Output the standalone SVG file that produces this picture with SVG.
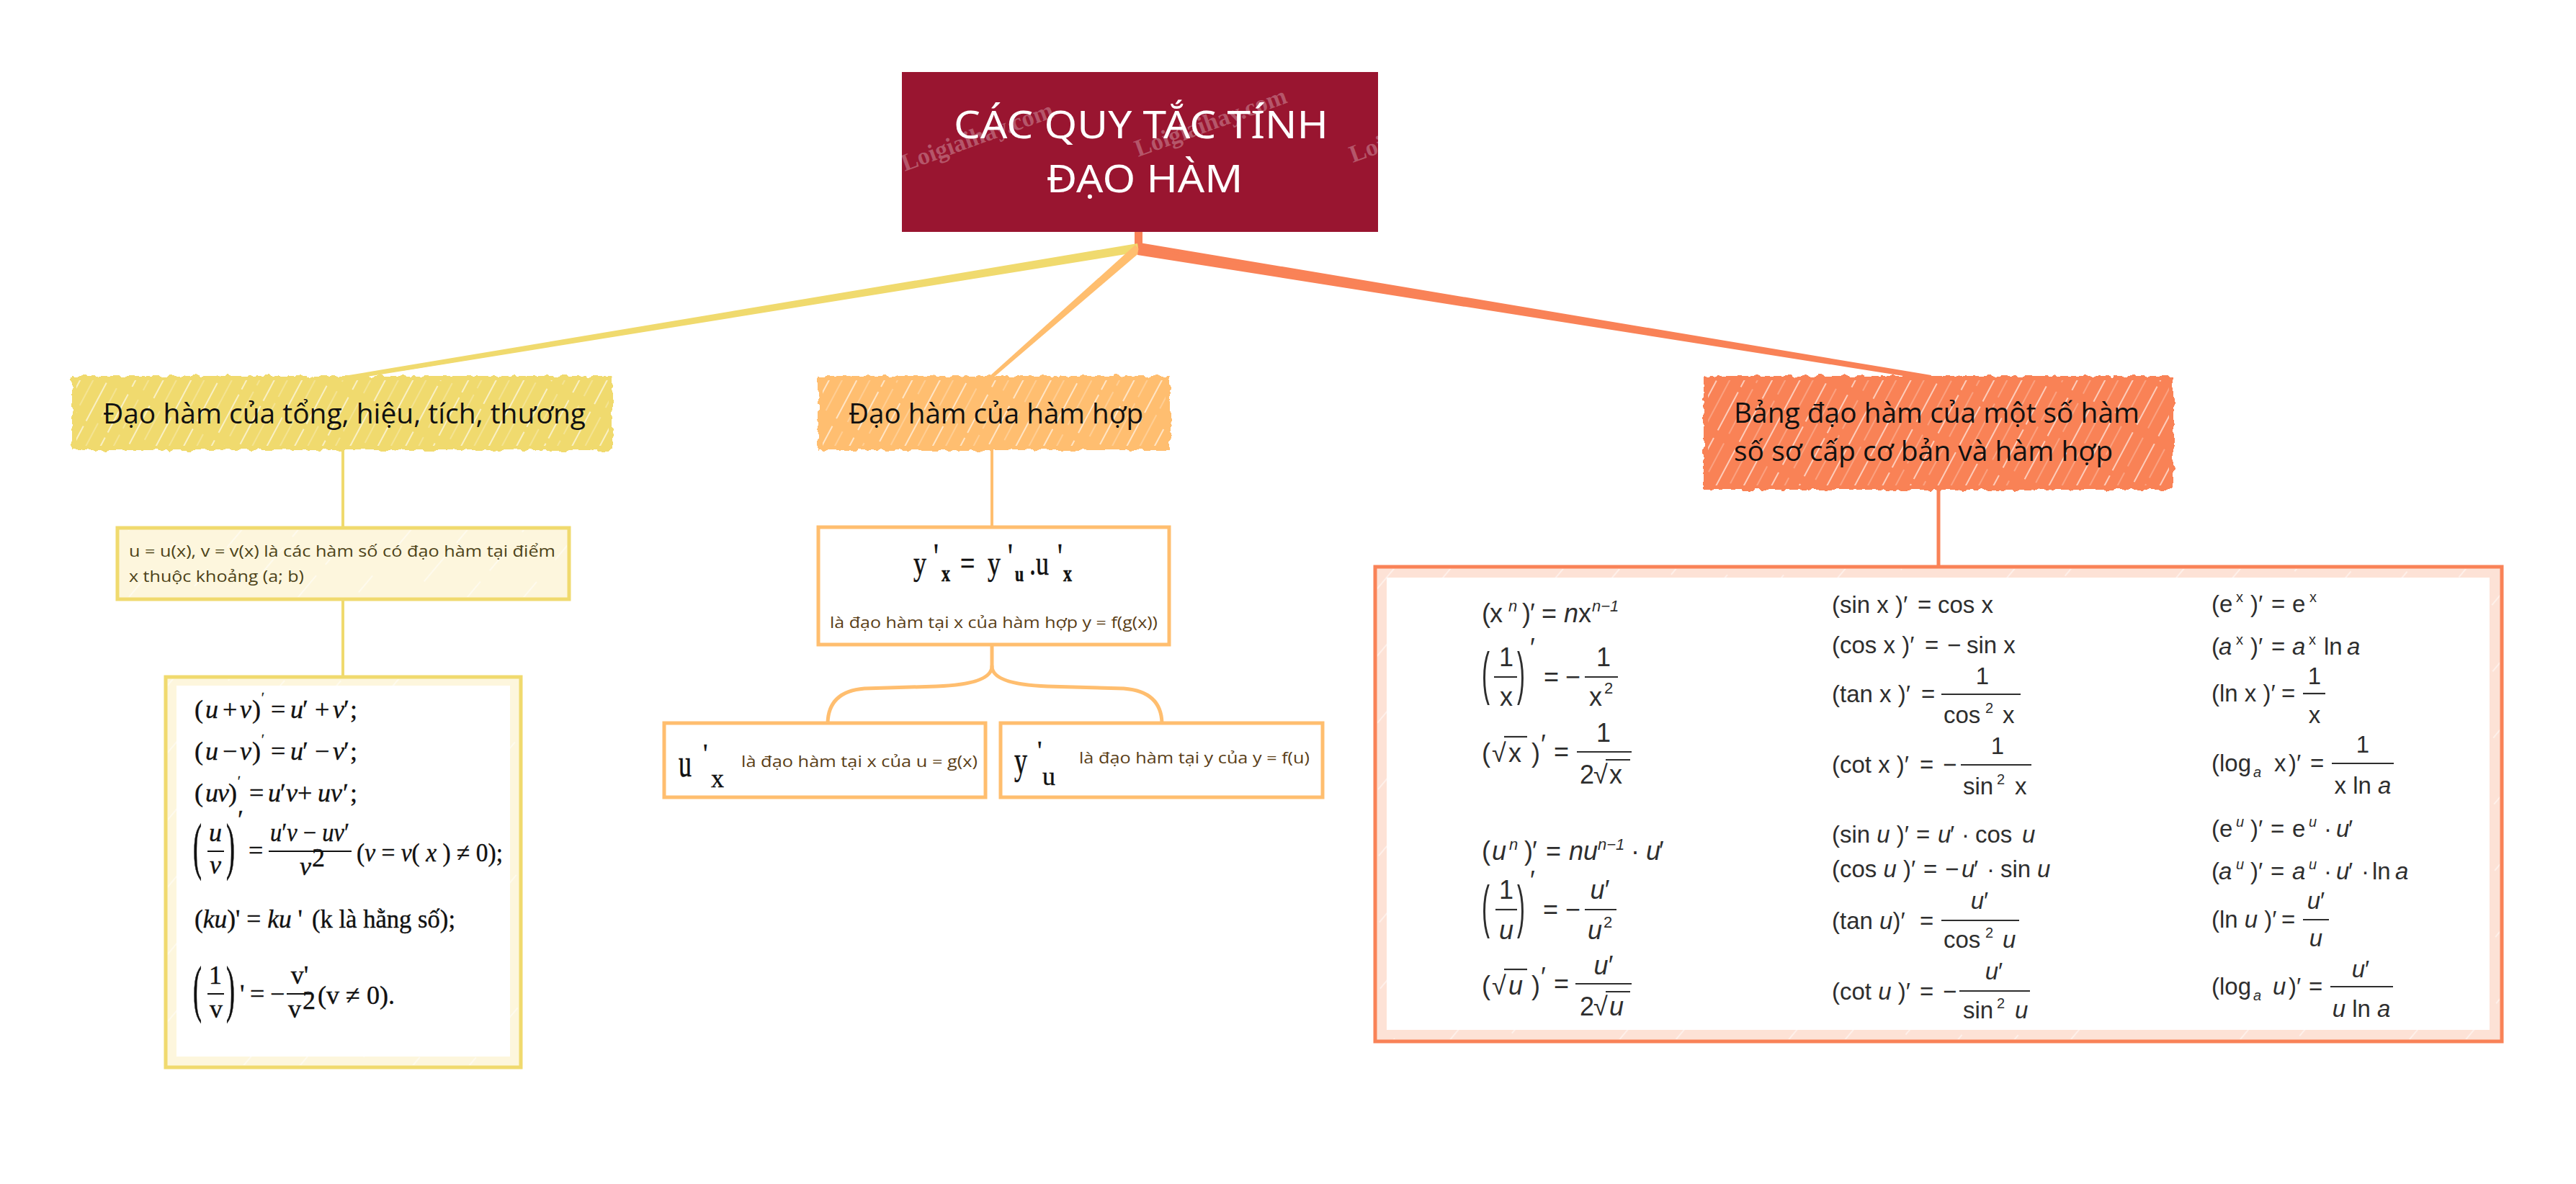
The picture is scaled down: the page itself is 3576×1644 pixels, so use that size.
<svg xmlns="http://www.w3.org/2000/svg" width="3576" height="1644" viewBox="0 0 3576 1644">
<style>
.bg{fill:#ffffff}
.title{font-family:"Noto Sans","Open Sans",sans-serif;fill:#ffffff;font-size:52px}
.wm{font-family:"Liberation Serif",serif;font-weight:bold;font-size:34px;fill:#ffffff;fill-opacity:0.28}
.lbl{font-family:"Open Sans","Noto Sans",sans-serif;fill:#111111;font-size:38px}
.note{font-family:"Open Sans","Noto Sans",sans-serif;font-size:22px}
.brn{fill:#5a3e17}
.olv{fill:#4d4318}
.m{font-family:"Liberation Sans","DejaVu Sans",sans-serif;font-size:33px;fill:#2e2e2e}
.m1{font-size:36px}
.i{font-style:italic}
.s{font-size:20px}
.s1{font-size:22px}
.t{font-family:"Liberation Serif","DejaVu Serif",serif;font-size:36px;fill:#111111;stroke:#111111;stroke-width:0.4}
.bar{stroke:#2e2e2e;stroke-width:2.2}
.tbar{stroke:#111111;stroke-width:2}
.conn{fill:none;stroke-linecap:round;stroke-linejoin:round}
</style>
<defs>
<pattern id="hatch" patternUnits="userSpaceOnUse" width="34" height="140" patternTransform="rotate(28)">
<line x1="6" y1="0" x2="6" y2="140" stroke="#ffffff" stroke-width="1.6" stroke-dasharray="40 8 60 12 20" opacity="0.75"/>
<line x1="22" y1="0" x2="22" y2="140" stroke="#ffffff" stroke-width="1" stroke-dasharray="25 10 70 15 20" opacity="0.5"/>
</pattern>
<pattern id="hatchL" patternUnits="userSpaceOnUse" width="60" height="140" patternTransform="rotate(40)">
<line x1="10" y1="0" x2="10" y2="140" stroke="#ffffff" stroke-width="1.2" stroke-dasharray="30 20 50 40" opacity="0.8"/>
</pattern>
<filter id="rough" x="-5%" y="-10%" width="110%" height="120%">
<feTurbulence type="fractalNoise" baseFrequency="0.09" numOctaves="2" seed="4"/>
<feDisplacementMap in="SourceGraphic" scale="9" xChannelSelector="R" yChannelSelector="G"/>
</filter>
<clipPath id="rootClip"><rect x="1252" y="100" width="661" height="222"/></clipPath>
</defs>
<rect class="bg" x="0" y="0" width="3576" height="1644"/>

<g id="connectors">
<rect x="1575" y="318" width="11" height="32" fill="#F98257"/>
<polygon points="1581,350 479,528 478,522 1579,338" fill="#F0DA6E"/>
<line x1="1575" y1="346" x2="560" y2="513" stroke="#F0DA6E" stroke-width="3"/>
<polygon points="1584,349 1377,526 1373,523 1576,340" fill="#FFBE6F"/>
<polygon points="1579,354 2680,528 2681,521 1582,337" fill="#F98257"/>
<line x1="1585" y1="344" x2="2600" y2="512" stroke="#F98257" stroke-width="3"/>
<line class="conn" x1="476" y1="620" x2="476" y2="733" stroke="#F0DA6E" stroke-width="4"/>
<line class="conn" x1="476" y1="832" x2="476" y2="943" stroke="#F0DA6E" stroke-width="4"/>
<line class="conn" x1="1377" y1="620" x2="1377" y2="733" stroke="#FFBE6F" stroke-width="4"/>
<line class="conn" x1="2691" y1="676" x2="2691" y2="790" stroke="#F98257" stroke-width="5"/>
<path class="conn" d="M1377,895 L1377,925 Q1377,950 1300,953 L1200,956 Q1150,960 1149,1004" stroke="#FFBE6F" stroke-width="5"/>
<path class="conn" d="M1377,925 Q1377,950 1454,953 L1560,956 Q1612,960 1613,1004" stroke="#FFBE6F" stroke-width="5"/>
</g>

<g id="root">
<rect x="1252" y="100" width="661" height="222" fill="#991530"/>
<g clip-path="url(#rootClip)">
<text class="wm" transform="translate(1256,238) rotate(-20)">Loigiaihay.com</text>
<text class="wm" transform="translate(1580,218) rotate(-20)">Loigiaihay.com</text>
<text class="wm" transform="translate(1878,226) rotate(-20)">Loigiaihay.com</text>
</g>
<text class="title" x="1584" y="192" text-anchor="middle" textLength="520" lengthAdjust="spacingAndGlyphs">CÁC QUY TẮC TÍNH</text>
<text class="title" x="1589" y="267" text-anchor="middle" textLength="273" lengthAdjust="spacingAndGlyphs">ĐẠO HÀM</text>
</g>

<g id="node-tong">
<rect x="100" y="522" width="751" height="103" fill="#F0DA6E" filter="url(#rough)"/>
<rect x="106" y="528" width="739" height="91" fill="url(#hatch)"/>
<text class="lbl" x="143" y="588" textLength="670" lengthAdjust="spacingAndGlyphs">Đạo hàm của tổng, hiệu, tích, thương</text>
</g>

<g id="node-hamhop">
<rect x="1136" y="522" width="488" height="103" fill="#FFBE6F" filter="url(#rough)"/>
<rect x="1142" y="528" width="476" height="91" fill="url(#hatch)"/>
<text class="lbl" x="1178" y="588" textLength="409" lengthAdjust="spacingAndGlyphs">Đạo hàm của hàm hợp</text>
</g>

<g id="node-bang">
<rect x="2365" y="522" width="652" height="158" fill="#F98257" filter="url(#rough)"/>
<rect x="2371" y="528" width="640" height="146" fill="url(#hatch)"/>
<text class="lbl" x="2407" y="587" textLength="563" lengthAdjust="spacingAndGlyphs">Bảng đạo hàm của một số hàm</text>
<text class="lbl" x="2407" y="640" textLength="526" lengthAdjust="spacingAndGlyphs">số sơ cấp cơ bản và hàm hợp</text>
</g>

<g id="node-uv">
<rect x="163" y="733" width="627" height="99" fill="#FDF6DD" stroke="#F0DA6E" stroke-width="5"/>
<rect x="166" y="736" width="621" height="93" fill="url(#hatchL)"/>
<text class="note olv" x="179" y="773" textLength="592" lengthAdjust="spacingAndGlyphs">u = u(x), v = v(x) là các hàm số có đạo hàm tại điểm</text>
<text class="note olv" x="179" y="808" textLength="243" lengthAdjust="spacingAndGlyphs">x thuộc khoảng (a; b)</text>
</g>

<g id="node-congthuc">
<rect x="230" y="940" width="493" height="542" fill="#FDF6DD" stroke="#F0DA6E" stroke-width="5"/>
<rect x="233" y="943" width="487" height="536" fill="url(#hatchL)"/>
<rect x="245" y="952" width="463" height="515" fill="#ffffff"/>
<text class="t">
<tspan x="270" y="997">(</tspan><tspan class="i" x="285" y="997">u</tspan><tspan x="309" y="997">+</tspan><tspan class="i" x="333" y="997">v</tspan><tspan x="350" y="997">)</tspan><tspan x="363" y="975" font-size="18">′</tspan><tspan x="376" y="997">=</tspan><tspan class="i" x="403" y="997">u</tspan><tspan x="420" y="997">′</tspan><tspan x="437" y="997">+</tspan><tspan class="i" x="462" y="997">v</tspan><tspan x="477" y="997">′</tspan><tspan x="486" y="997">;</tspan>
</text>
<text class="t">
<tspan x="270" y="1055">(</tspan><tspan class="i" x="285" y="1055">u</tspan><tspan x="309" y="1055">−</tspan><tspan class="i" x="333" y="1055">v</tspan><tspan x="350" y="1055">)</tspan><tspan x="363" y="1033" font-size="18">′</tspan><tspan x="376" y="1055">=</tspan><tspan class="i" x="403" y="1055">u</tspan><tspan x="420" y="1055">′</tspan><tspan x="437" y="1055">−</tspan><tspan class="i" x="462" y="1055">v</tspan><tspan x="477" y="1055">′</tspan><tspan x="486" y="1055">;</tspan>
</text>
<text class="t">
<tspan x="270" y="1113">(</tspan><tspan class="i" x="285" y="1113">u</tspan><tspan class="i" x="302" y="1113">v</tspan><tspan x="317" y="1113">)</tspan><tspan x="330" y="1091" font-size="18">′</tspan><tspan x="346" y="1113">=</tspan><tspan class="i" x="372" y="1113">u</tspan><tspan x="389" y="1113">′</tspan><tspan class="i" x="397" y="1113">v</tspan><tspan x="413" y="1113">+</tspan><tspan class="i" x="441" y="1113">u</tspan><tspan class="i" x="459" y="1113">v</tspan><tspan x="476" y="1113">′</tspan><tspan x="486" y="1113">;</tspan>
</text>
<text class="t" transform="translate(268,1204) scale(1,2.4)">(</text>
<text class="t i" x="299" y="1168" text-anchor="middle">u</text>
<line class="tbar" x1="288" y1="1182" x2="311" y2="1182"/>
<text class="t i" x="299" y="1213" text-anchor="middle">v</text>
<text class="t" transform="translate(314,1204) scale(1,2.4)">)</text>
<text class="t" x="330" y="1150" font-size="18">′</text>
<text class="t" x="345" y="1193">=</text>
<line class="tbar" x1="373" y1="1182" x2="488" y2="1182"/>
<text class="t" x="375" y="1168" textLength="110" lengthAdjust="spacingAndGlyphs"><tspan class="i">u</tspan>′<tspan class="i">v</tspan> − <tspan class="i">uv</tspan>′</text>
<text class="t i" x="416" y="1215">v</text>
<text class="t" x="433" y="1203" font-size="20">2</text>
<text class="t" x="495" y="1196" font-size="40" textLength="203" lengthAdjust="spacingAndGlyphs">(<tspan class="i">v</tspan> = <tspan class="i">v</tspan>( <tspan class="i">x</tspan> ) ≠ 0);</text>
<text class="t" x="270" y="1288" textLength="150" lengthAdjust="spacingAndGlyphs">(<tspan class="i">ku</tspan>)' = <tspan class="i">ku</tspan> '</text>
<text class="t" x="433" y="1288" font-size="38" textLength="199" lengthAdjust="spacingAndGlyphs">(k là hằng số);</text>
<text class="t" transform="translate(268,1402) scale(1,2.4)">(</text>
<text class="t" x="299" y="1366" text-anchor="middle">1</text>
<line class="tbar" x1="288" y1="1380" x2="311" y2="1380"/>
<text class="t" x="300" y="1413" text-anchor="middle">v</text>
<text class="t" transform="translate(314,1402) scale(1,2.4)">)</text>
<text class="t" x="333" y="1392">'</text>
<text class="t" x="347" y="1392">=</text>
<text class="t" x="375" y="1392">−</text>
<line class="tbar" x1="398" y1="1380" x2="433" y2="1380"/>
<text class="t" x="416" y="1366" text-anchor="middle">v'</text>
<text class="t" x="400" y="1413">v</text>
<text class="t" x="420" y="1401" font-size="20">2</text>
<text class="t" x="441" y="1394" font-size="42" textLength="107" lengthAdjust="spacingAndGlyphs">(v ≠ 0).</text>
</g>

<g id="node-yx">
<rect x="1136" y="732" width="487" height="163" fill="#ffffff" stroke="#FFBE6F" stroke-width="5"/>
<text class="t" font-size="54" transform="matrix(1 0 0 1.35 0 -279.3)">
<tspan x="1268" y="798">y</tspan><tspan x="1296" y="791" font-size="38">'</tspan><tspan x="1307" y="805" font-size="24" font-weight="bold">x</tspan><tspan x="1333" y="798">=</tspan><tspan x="1371" y="798">y</tspan><tspan x="1399" y="791" font-size="38">'</tspan><tspan x="1409" y="805" font-size="22" font-weight="bold">u</tspan><tspan x="1429" y="798">.u</tspan><tspan x="1468" y="791" font-size="38">'</tspan><tspan x="1476" y="805" font-size="24" font-weight="bold">x</tspan>
</text>
<text class="note brn" x="1152" y="872" textLength="455" lengthAdjust="spacingAndGlyphs">là đạo hàm tại x của hàm hợp y = f(g(x))</text>
</g>

<g id="node-ux">
<rect x="922" y="1004" width="446" height="103" fill="#ffffff" stroke="#FFBE6F" stroke-width="5"/>
<text class="t" transform="translate(942,1078) scale(1,1.5)" font-size="58">u</text>
<text class="t" x="976" y="1058" font-size="40">'</text>
<text class="t" x="987" y="1093" font-size="28">x</text>
<text class="note brn" x="1029" y="1065" font-size="26" textLength="328" lengthAdjust="spacingAndGlyphs">là đạo hàm tại x của u = g(x)</text>
</g>

<g id="node-yu">
<rect x="1389" y="1004" width="447" height="103" fill="#ffffff" stroke="#FFBE6F" stroke-width="5"/>
<text class="t" transform="translate(1408,1074) scale(1,1.5)" font-size="58">y</text>
<text class="t" x="1440" y="1054" font-size="40">'</text>
<text class="t" x="1447" y="1090" font-size="28">u</text>
<text class="note brn" x="1498" y="1060" font-size="26" textLength="320" lengthAdjust="spacingAndGlyphs">là đạo hàm tại y của y = f(u)</text>
</g>

<g id="node-bangdaoham">
<rect x="1909" y="787" width="1564" height="659" fill="#FDE2D6" stroke="#F98257" stroke-width="5"/>
<rect x="1912" y="790" width="1558" height="653" fill="url(#hatchL)"/>
<rect x="1925" y="802" width="1531" height="628" fill="#ffffff"/>

<!-- column 1 -->
<text class="m m1"><tspan x="2057" y="864">(</tspan><tspan x="2068" y="864">x</tspan><tspan class="s1 i" x="2094" y="849">n</tspan><tspan x="2113" y="864">)</tspan><tspan x="2124" y="864">′</tspan><tspan x="2140" y="864">=</tspan><tspan class="i" x="2171" y="864">n</tspan><tspan x="2191" y="864">x</tspan><tspan class="s1 i" x="2210" y="849">n−1</tspan></text>

<text class="m" transform="translate(2057,962) scale(1,2.4)" font-size="40">(</text>
<text class="m m1" x="2091" y="925" text-anchor="middle">1</text>
<line class="bar" x1="2074" y1="940" x2="2106" y2="940"/>
<text class="m m1" x="2091" y="980" text-anchor="middle">x</text>
<text class="m" transform="translate(2106,962) scale(1,2.4)" font-size="40">)</text>
<text class="m m1" x="2124" y="912">′</text>
<text class="m m1" x="2143" y="952">=</text>
<text class="m m1" x="2173" y="952">−</text>
<line class="bar" x1="2200" y1="940" x2="2246" y2="940"/>
<text class="m m1" x="2226" y="925" text-anchor="middle">1</text>
<text class="m m1" x="2206" y="980">x</text>
<text class="m s1" x="2227" y="963">2</text>

<text class="m m1"><tspan x="2057" y="1058">(</tspan><tspan x="2071" y="1058">√</tspan><tspan x="2094" y="1058">x</tspan><tspan x="2126" y="1058">)</tspan><tspan x="2139" y="1046">′</tspan><tspan x="2157" y="1056">=</tspan></text>
<line class="bar" x1="2088" y1="1023" x2="2120" y2="1023"/>
<line class="bar" x1="2189" y1="1044" x2="2265" y2="1044"/>
<text class="m m1" x="2226" y="1030" text-anchor="middle">1</text>
<text class="m m1"><tspan x="2193" y="1088">2</tspan><tspan x="2212" y="1088">√</tspan><tspan x="2234" y="1088">x</tspan></text>
<line class="bar" x1="2229" y1="1055" x2="2263" y2="1055"/>

<text class="m m1"><tspan x="2057" y="1194">(</tspan><tspan class="i" x="2071" y="1194">u</tspan><tspan class="s1 i" x="2095" y="1180">n</tspan><tspan x="2116" y="1194">)</tspan><tspan x="2127" y="1194">′</tspan><tspan x="2146" y="1194">=</tspan><tspan class="i" x="2178" y="1194">nu</tspan><tspan class="s1 i" x="2218" y="1180">n−1</tspan><tspan x="2264" y="1194">·</tspan><tspan class="i" x="2285" y="1194">u</tspan><tspan x="2303" y="1194">′</tspan></text>

<text class="m" transform="translate(2057,1286) scale(1,2.4)" font-size="40">(</text>
<text class="m m1" x="2091" y="1248" text-anchor="middle">1</text>
<line class="bar" x1="2076" y1="1263" x2="2106" y2="1263"/>
<text class="m m1 i" x="2091" y="1304" text-anchor="middle">u</text>
<text class="m" transform="translate(2106,1286) scale(1,2.4)" font-size="40">)</text>
<text class="m m1" x="2124" y="1235">′</text>
<text class="m m1" x="2142" y="1275">=</text>
<text class="m m1" x="2173" y="1275">−</text>
<line class="bar" x1="2200" y1="1263" x2="2244" y2="1263"/>
<text class="m m1" x="2221" y="1248" text-anchor="middle"><tspan class="i">u</tspan>′</text>
<text class="m m1 i" x="2204" y="1304">u</text>
<text class="m s1" x="2226" y="1288">2</text>

<text class="m m1"><tspan x="2057" y="1381">(</tspan><tspan x="2071" y="1381">√</tspan><tspan class="i" x="2094" y="1381">u</tspan><tspan x="2126" y="1381">)</tspan><tspan x="2139" y="1369">′</tspan><tspan x="2157" y="1378">=</tspan></text>
<line class="bar" x1="2088" y1="1346" x2="2120" y2="1346"/>
<line class="bar" x1="2187" y1="1366" x2="2265" y2="1366"/>
<text class="m m1" x="2226" y="1353" text-anchor="middle"><tspan class="i">u</tspan>′</text>
<text class="m m1"><tspan x="2193" y="1410">2</tspan><tspan x="2212" y="1410">√</tspan><tspan class="i" x="2234" y="1410">u</tspan></text>
<line class="bar" x1="2229" y1="1377" x2="2263" y2="1377"/>

<!-- column 2 -->
<text class="m"><tspan x="2543" y="851">(sin x )′</tspan><tspan x="2662" y="851">=</tspan><tspan x="2690" y="851">cos x</tspan></text>
<text class="m"><tspan x="2543" y="907">(cos x )′</tspan><tspan x="2672" y="907">=</tspan><tspan x="2703" y="907">−</tspan><tspan x="2730" y="907">sin x</tspan></text>

<text class="m"><tspan x="2543" y="975">(tan x )′</tspan><tspan x="2667" y="975">=</tspan></text>
<line class="bar" x1="2695" y1="964" x2="2805" y2="964"/>
<text class="m" x="2752" y="950" text-anchor="middle">1</text>
<text class="m"><tspan x="2698" y="1004">cos</tspan><tspan class="s" x="2756" y="990">2</tspan><tspan x="2780" y="1004">x</tspan></text>

<text class="m"><tspan x="2543" y="1073">(cot x )′</tspan><tspan x="2665" y="1073">=</tspan><tspan x="2697" y="1073">−</tspan></text>
<line class="bar" x1="2722" y1="1062" x2="2820" y2="1062"/>
<text class="m" x="2773" y="1047" text-anchor="middle">1</text>
<text class="m"><tspan x="2725" y="1103">sin</tspan><tspan class="s" x="2772" y="1089">2</tspan><tspan x="2797" y="1103">x</tspan></text>

<text class="m"><tspan x="2543" y="1170">(sin <tspan class="i">u</tspan> )′</tspan><tspan x="2660" y="1170">=</tspan><tspan class="i" x="2690" y="1170">u</tspan><tspan x="2707" y="1170">′</tspan><tspan x="2723" y="1170">·</tspan><tspan x="2742" y="1170">cos</tspan><tspan class="i" x="2807" y="1170">u</tspan></text>
<text class="m"><tspan x="2543" y="1218">(cos <tspan class="i">u</tspan> )′</tspan><tspan x="2670" y="1218">=</tspan><tspan x="2700" y="1218">−</tspan><tspan class="i" x="2723" y="1218">u</tspan><tspan x="2740" y="1218">′</tspan><tspan x="2758" y="1218">·</tspan><tspan x="2777" y="1218">sin</tspan><tspan class="i" x="2828" y="1218">u</tspan></text>

<text class="m"><tspan x="2543" y="1290">(tan <tspan class="i">u</tspan>)′</tspan><tspan x="2665" y="1290">=</tspan></text>
<line class="bar" x1="2695" y1="1278" x2="2803" y2="1278"/>
<text class="m" x="2748" y="1262" text-anchor="middle"><tspan class="i">u</tspan>′</text>
<text class="m"><tspan x="2698" y="1316">cos</tspan><tspan class="s" x="2756" y="1302">2</tspan><tspan class="i" x="2780" y="1316">u</tspan></text>

<text class="m"><tspan x="2543" y="1388">(cot <tspan class="i">u</tspan> )′</tspan><tspan x="2665" y="1388">=</tspan><tspan x="2697" y="1388">−</tspan></text>
<line class="bar" x1="2720" y1="1376" x2="2818" y2="1376"/>
<text class="m" x="2768" y="1360" text-anchor="middle"><tspan class="i">u</tspan>′</text>
<text class="m"><tspan x="2725" y="1414">sin</tspan><tspan class="s" x="2772" y="1400">2</tspan><tspan class="i" x="2797" y="1414">u</tspan></text>

<!-- column 3 -->
<text class="m"><tspan x="3070" y="850">(e</tspan><tspan class="s" x="3104" y="836">x</tspan><tspan x="3124" y="850">)′</tspan><tspan x="3153" y="850">=</tspan><tspan x="3182" y="850">e</tspan><tspan class="s" x="3206" y="836">x</tspan></text>
<text class="m"><tspan x="3070" y="909">(</tspan><tspan class="i" x="3080" y="909">a</tspan><tspan class="s" x="3104" y="895">x</tspan><tspan x="3124" y="909">)′</tspan><tspan x="3153" y="909">=</tspan><tspan class="i" x="3182" y="909">a</tspan><tspan class="s" x="3205" y="895">x</tspan><tspan x="3226" y="909">ln</tspan><tspan class="i" x="3258" y="909">a</tspan></text>

<text class="m"><tspan x="3070" y="974">(ln x )′</tspan><tspan x="3167" y="974">=</tspan></text>
<line class="bar" x1="3197" y1="963" x2="3228" y2="963"/>
<text class="m" x="3213" y="950" text-anchor="middle">1</text>
<text class="m" x="3213" y="1004" text-anchor="middle">x</text>

<text class="m"><tspan x="3070" y="1071">(log</tspan><tspan class="s i" x="3128" y="1079">a</tspan><tspan x="3157" y="1071">x</tspan><tspan x="3177" y="1071">)′</tspan><tspan x="3207" y="1071">=</tspan></text>
<line class="bar" x1="3237" y1="1060" x2="3323" y2="1060"/>
<text class="m" x="3280" y="1045" text-anchor="middle">1</text>
<text class="m" x="3280" y="1102" text-anchor="middle">x ln <tspan class="i">a</tspan></text>

<text class="m"><tspan x="3070" y="1162">(e</tspan><tspan class="s i" x="3104" y="1148">u</tspan><tspan x="3124" y="1162">)′</tspan><tspan x="3152" y="1162">=</tspan><tspan x="3182" y="1162">e</tspan><tspan class="s i" x="3205" y="1148">u</tspan><tspan x="3226" y="1162">·</tspan><tspan class="i" x="3243" y="1162">u</tspan><tspan x="3260" y="1162">′</tspan></text>
<text class="m"><tspan x="3070" y="1221">(</tspan><tspan class="i" x="3080" y="1221">a</tspan><tspan class="s i" x="3104" y="1207">u</tspan><tspan x="3124" y="1221">)′</tspan><tspan x="3152" y="1221">=</tspan><tspan class="i" x="3182" y="1221">a</tspan><tspan class="s i" x="3205" y="1207">u</tspan><tspan x="3226" y="1221">·</tspan><tspan class="i" x="3243" y="1221">u</tspan><tspan x="3260" y="1221">′</tspan><tspan x="3278" y="1221">·</tspan><tspan x="3293" y="1221">ln</tspan><tspan class="i" x="3325" y="1221">a</tspan></text>

<text class="m"><tspan x="3070" y="1288">(ln <tspan class="i">u</tspan> )′</tspan><tspan x="3167" y="1288">=</tspan></text>
<line class="bar" x1="3197" y1="1277" x2="3233" y2="1277"/>
<text class="m" x="3215" y="1262" text-anchor="middle"><tspan class="i">u</tspan>′</text>
<text class="m i" x="3215" y="1314" text-anchor="middle">u</text>

<text class="m"><tspan x="3070" y="1381">(log</tspan><tspan class="s i" x="3128" y="1389">a</tspan><tspan class="i" x="3155" y="1381">u</tspan><tspan x="3177" y="1381">)′</tspan><tspan x="3205" y="1381">=</tspan></text>
<line class="bar" x1="3235" y1="1370" x2="3322" y2="1370"/>
<text class="m" x="3277" y="1357" text-anchor="middle"><tspan class="i">u</tspan>′</text>
<text class="m" x="3278" y="1412" text-anchor="middle"><tspan class="i">u</tspan> ln <tspan class="i">a</tspan></text>
</g>
</svg>
